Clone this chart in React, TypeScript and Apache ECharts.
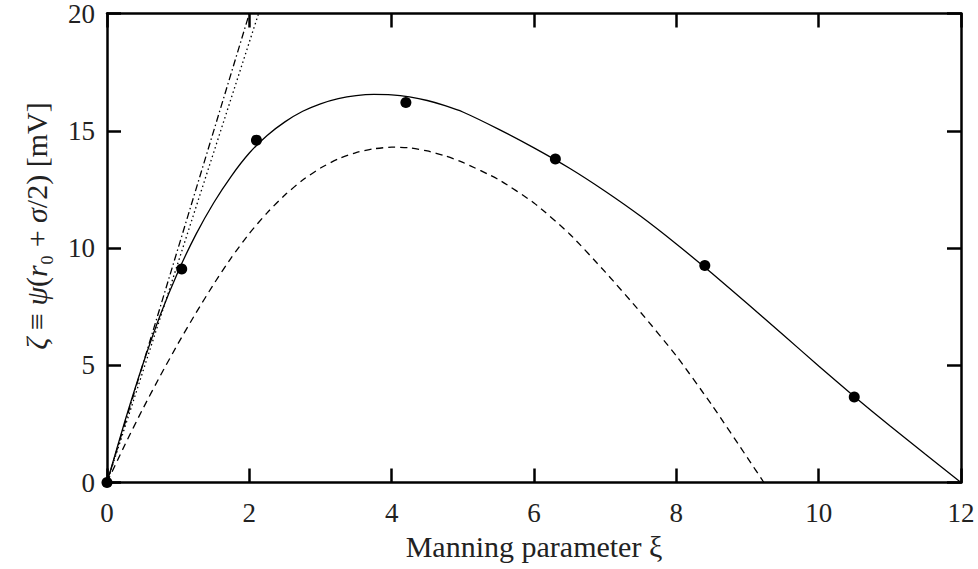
import React, { useEffect, useRef } from "react";
import * as echarts from "echarts";

const xTicks = [0, 2, 4, 6, 8, 10, 12];
const yTicks = [0, 5, 10, 15, 20];

const dotsX = [0, 1.05, 2.1, 4.2, 6.3, 8.4, 10.5];
const dotsY = [0, 9.1, 14.6, 16.2, 13.8, 9.25, 3.65];

const solidX = [0, 0.25, 0.5, 0.75, 1, 1.25, 1.5, 1.75, 2, 2.25, 2.5, 2.75, 3, 3.25, 3.5, 3.75, 4, 4.25, 4.5, 4.75, 5, 5.5, 6, 6.5, 7, 7.5, 8, 8.5, 9, 9.5, 10, 10.5, 11, 11.5, 12];
const solidY = [0, 2.6, 5.0, 7.15, 9.0, 10.58, 11.93, 13.08, 14.05, 14.8, 15.38, 15.83, 16.15, 16.37, 16.5, 16.55, 16.53, 16.44, 16.29, 16.07, 15.8, 15.07, 14.27, 13.4, 12.42, 11.35, 10.17, 8.92, 7.62, 6.3, 4.97, 3.67, 2.42, 1.2, 0];

const dashedX = [0, 0.25, 0.5, 0.75, 1, 1.25, 1.5, 1.75, 2, 2.25, 2.5, 2.75, 3, 3.25, 3.5, 3.75, 4, 4.25, 4.5, 4.75, 5, 5.5, 6, 6.5, 7, 7.5, 8, 8.5, 9, 9.23];
const dashedY = [0, 1.6, 3.12, 4.56, 5.93, 7.23, 8.46, 9.6, 10.62, 11.5, 12.26, 12.9, 13.41, 13.8, 14.07, 14.23, 14.3, 14.27, 14.14, 13.93, 13.65, 12.92, 11.92, 10.6, 8.98, 7.25, 5.4, 3.3, 1.05, 0];

const dashDotX = [0, 2.0];
const dashDotY = [0, 20];

const dottedX = [0, 2.13];
const dottedY = [0, 20];

const zip = (xs: number[], ys: number[]) => xs.map((x, i) => [x, ys[i]]);

export default function App() {
  const ref = useRef<HTMLDivElement>(null);
  useEffect(() => {
    if (!ref.current) return;
    const chart = echarts.init(ref.current, null, { renderer: "svg" });
    const font = "'Liberation Serif', 'DejaVu Serif', serif";
    const axisLine = { show: true, onZero: false, lineStyle: { color: "#000", width: 2.5 } };
    const axisTick = { show: true, inside: true, length: 14, lineStyle: { color: "#000", width: 2.5 } };
    const lineCommon = { type: "line" as const, showSymbol: false, symbol: "none", smooth: 0.2, silent: true, z: 2 };
    chart.setOption({
      animation: false,
      backgroundColor: "#fff",
      grid: { left: 107, right: 17, top: 13, bottom: 86.5, containLabel: false },
      xAxis: [
        {
          type: "value", min: 0, max: 12, interval: 2, position: "bottom",
          axisLine, axisTick, splitLine: { show: false },
          axisLabel: { color: "#222", fontFamily: font, fontSize: 27, margin: 17 },
          name: "Manning parameter ξ", nameLocation: "middle", nameGap: 49,
          nameTextStyle: { color: "#222", fontFamily: font, fontSize: 30 },
        },
        {
          type: "value", min: 0, max: 12, interval: 2, position: "top",
          axisLine, axisTick, splitLine: { show: false }, axisLabel: { show: false },
        },
      ],
      yAxis: [
        {
          type: "value", min: 0, max: 20, interval: 5, position: "left",
          axisLine, axisTick, splitLine: { show: false },
          axisLabel: { color: "#222", fontFamily: font, fontSize: 27, margin: 12 },
        },
        {
          type: "value", min: 0, max: 20, interval: 5, position: "right",
          axisLine, axisTick, splitLine: { show: false }, axisLabel: { show: false },
        },
      ],
      graphic: [
        {
          type: "text",
          x: 36,
          y: 226,
          rotation: Math.PI / 2,
          style: {
            text: "{i|ζ} ≡ {i|ψ}({i|r}₀ + {i|σ}/2) [mV]",
            align: "center",
            verticalAlign: "middle",
            fill: "#222",
            font: "30px 'Liberation Serif', serif",
            rich: {
              i: { fontStyle: "italic", fontFamily: font, fontSize: 30, fill: "#222" },
            },
          },
        },
      ],
      series: [
        { ...lineCommon, data: zip(solidX, solidY), lineStyle: { color: "#000", width: 1.3 } },
        { ...lineCommon, data: zip(dashedX, dashedY), lineStyle: { color: "#000", width: 1.3, type: [7, 5] } },
        { ...lineCommon, smooth: false, data: zip(dashDotX, dashDotY), lineStyle: { color: "#000", width: 1.3, type: [7, 3, 1.5, 3] } },
        { ...lineCommon, smooth: false, data: zip(dottedX, dottedY), lineStyle: { color: "#000", width: 1.3, type: [1.5, 3] } },
        {
          type: "scatter", data: zip(dotsX, dotsY), symbol: "circle", symbolSize: 11,
          itemStyle: { color: "#000", opacity: 1 }, clip: false, silent: true, z: 3,
        },
      ],
    });
    return () => chart.dispose();
  }, []);
  return <div ref={ref} style={{ position: "fixed", left: 0, top: 0, width: 978, height: 569 }} />;
}
